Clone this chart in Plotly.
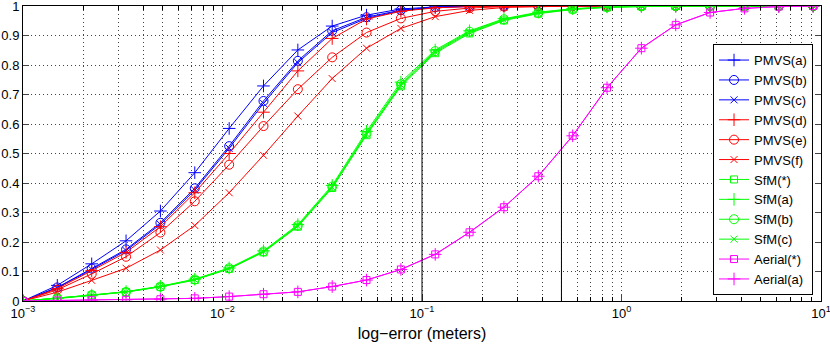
import plotly.graph_objects as go

# x positions of the samples (meters)
x_err = [0.001, 0.001486, 0.00221, 0.003285, 0.004884, 0.007261, 0.0108, 0.01605,
         0.02386, 0.03547, 0.05272, 0.07838, 0.1165, 0.1732, 0.2575, 0.3828,
         0.5691, 0.846, 1.258, 1.87, 2.78, 4.133, 6.143, 9.133]

pmvs_a = [0, 0.053, 0.126, 0.204, 0.305, 0.435, 0.585, 0.729, 0.851, 0.932, 0.969, 0.99,
          0.997, 1, 1, 1, 1, 1, 1, 1, 1, 1, 1, 1]
pmvs_b = [0, 0.046, 0.11, 0.175, 0.265, 0.382, 0.525, 0.678, 0.814, 0.916, 0.962, 0.986,
          0.996, 0.999, 1, 1, 1, 1, 1, 1, 1, 1, 1, 1]
pmvs_c = [0, 0.045, 0.107, 0.171, 0.26, 0.376, 0.518, 0.67, 0.808, 0.91, 0.958, 0.984,
          0.995, 0.999, 1, 1, 1, 1, 1, 1, 1, 1, 1, 1]
pmvs_d = [0, 0.042, 0.103, 0.165, 0.252, 0.367, 0.5, 0.64, 0.78, 0.89, 0.956, 0.982,
          0.994, 0.998, 1, 1, 1, 1, 1, 1, 1, 1, 1, 1]
pmvs_e = [0, 0.038, 0.092, 0.15, 0.232, 0.338, 0.462, 0.593, 0.718, 0.826, 0.91, 0.958,
          0.982, 0.993, 0.998, 1, 1, 1, 1, 1, 1, 1, 1, 1]
pmvs_f = [0, 0.03, 0.07, 0.111, 0.173, 0.256, 0.367, 0.494, 0.627, 0.754, 0.857, 0.924,
          0.964, 0.985, 0.995, 0.998, 1, 1, 1, 1, 1, 1, 1, 1]
sfm_s = [0, 0.008, 0.019, 0.03, 0.048, 0.071, 0.109, 0.165, 0.252, 0.383, 0.562, 0.728,
         0.84, 0.907, 0.951, 0.974, 0.988, 0.995, 0.999, 1, 1, 1, 1, 1]
sfm_a = [0, 0.009, 0.02, 0.032, 0.05, 0.074, 0.112, 0.17, 0.259, 0.392, 0.575, 0.742,
         0.851, 0.916, 0.957, 0.979, 0.991, 0.997, 1, 1, 1, 1, 1, 1]
sfm_b = [0, 0.009, 0.02, 0.031, 0.049, 0.073, 0.111, 0.168, 0.256, 0.388, 0.569, 0.735,
         0.847, 0.913, 0.955, 0.977, 0.99, 0.996, 0.999, 1, 1, 1, 1, 1]
sfm_c = [0, 0.009, 0.02, 0.031, 0.049, 0.072, 0.11, 0.167, 0.254, 0.386, 0.566, 0.732,
         0.844, 0.91, 0.953, 0.976, 0.989, 0.996, 0.999, 1, 1, 1, 1, 1]
aerial_s = [0, 0.002, 0.003, 0.004, 0.006, 0.009, 0.015, 0.023, 0.031, 0.049, 0.071, 0.107,
            0.158, 0.233, 0.318, 0.423, 0.56, 0.723, 0.857, 0.936, 0.978, 0.992, 0.998, 1]
aerial_a = [0, 0.002, 0.003, 0.004, 0.006, 0.009, 0.015, 0.023, 0.031, 0.049, 0.071, 0.107,
            0.158, 0.233, 0.318, 0.423, 0.56, 0.723, 0.857, 0.936, 0.978, 0.992, 0.998, 1]

thresholds = [0.1, 0.5]
tick_vals = [0.001, 0.01, 0.1, 1, 10]
tick_text = ["10<sup>\u22123</sup>", "10<sup>\u22122</sup>", "10<sup>\u22121</sup>",
             "10<sup>0</sup>", "10<sup>1</sup>"]

BLUE, RED, GREEN, MAG = "#0000ff", "#ff0000", "#00ff00", "#ff00ff"
series = [
    ("PMVS(a)", pmvs_a, BLUE, "cross-thin-open", 9),
    ("PMVS(b)", pmvs_b, BLUE, "circle-open", 9),
    ("PMVS(c)", pmvs_c, BLUE, "x-thin-open", 7),
    ("PMVS(d)", pmvs_d, RED, "cross-thin-open", 9),
    ("PMVS(e)", pmvs_e, RED, "circle-open", 9),
    ("PMVS(f)", pmvs_f, RED, "x-thin-open", 7),
    ("SfM(*)", sfm_s, GREEN, "square-open", 7),
    ("SfM(a)", sfm_a, GREEN, "cross-thin-open", 9),
    ("SfM(b)", sfm_b, GREEN, "circle-open", 9),
    ("SfM(c)", sfm_c, GREEN, "x-thin-open", 7),
    ("Aerial(*)", aerial_s, MAG, "square-open", 7),
    ("Aerial(a)", aerial_a, MAG, "cross-thin-open", 9),
]

fig = go.Figure()
for name, ys, col, sym, sz in series:
    fig.add_trace(go.Scatter(
        x=x_err, y=ys, name=name, mode="lines+markers",
        line=dict(color=col, width=1),
        marker=dict(symbol=sym, size=sz, color=col, line=dict(color=col, width=1)),
    ))

for t in thresholds:
    fig.add_vline(x=t, line=dict(color="black", width=1))

dot = "1px,3px"
fig.update_xaxes(
    type="log", range=[-3, 1], tickvals=tick_vals, ticktext=tick_text,
    ticks="inside", ticklen=6, showline=True, linecolor="black", mirror="ticks",
    showgrid=True, gridcolor="#444", griddash=dot, zeroline=False,
    ticklabeloverflow="allow", automargin=False,
    title=dict(text="log\u2212error (meters)", standoff=8),
    minor=dict(dtick="D1", ticks="inside", ticklen=4, tickcolor="black",
               showgrid=True, gridcolor="#444", griddash=dot),
)
fig.update_yaxes(
    range=[0, 1], dtick=0.1, ticks="inside", ticklen=6, showline=True,
    linecolor="black", mirror="ticks", showgrid=True, gridcolor="#444",
    griddash=dot, zeroline=False, ticklabeloverflow="allow", automargin=False,
)

fig.update_layout(
    width=830, height=344,
    margin=dict(l=23, r=9, t=6, b=43),
    paper_bgcolor="white", plot_bgcolor="white",
    font=dict(family="Liberation Sans, Arial, sans-serif", size=13, color="black"),
    legend=dict(x=0.99, y=0.02, xanchor="right", yanchor="bottom",
                bgcolor="white", bordercolor="black", borderwidth=1,
                font=dict(size=13), tracegroupgap=0),
)

# page body margin would shift the figure by 8px
fig.write_html("out.html", config={"displayModeBar": False},
               post_script="document.body.style.margin='0';")
